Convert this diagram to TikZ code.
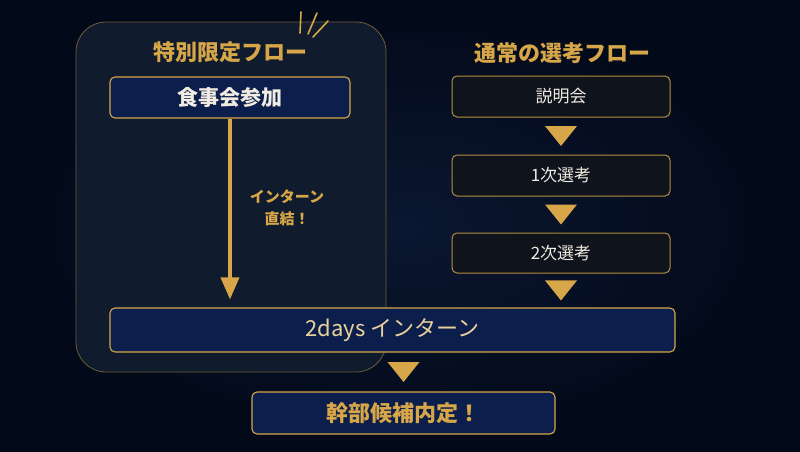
\documentclass[tikz,border=0pt]{standalone}
\usepackage{fontspec}
\setmainfont{Noto Sans CJK JP}
\usetikzlibrary{arrows.meta,calc}

\definecolor{bgnavy}{HTML}{0B1731}
\definecolor{bgdark}{HTML}{020918}
\definecolor{gold}{HTML}{D6A648}
\definecolor{goldlight}{HTML}{EBD29C}
\definecolor{boxnavy}{HTML}{0C1F4C}
\definecolor{boxdark}{HTML}{0F131C}
\definecolor{panelfill}{HTML}{111B2E}
\definecolor{panelline}{HTML}{6E5B38}
\definecolor{paletext}{HTML}{F0ECE2}

\tikzset{
  flowtitle/.style={text=gold, font=\bfseries\fontsize{22}{26}\selectfont},
  navybox/.style={draw=gold, line width=1.1pt, rounded corners=5pt, fill=boxnavy,
    inner sep=0pt},
  darkbox/.style={draw=gold!85!black, line width=1pt, rounded corners=5pt, fill=boxdark,
    inner sep=0pt, minimum width=218pt, minimum height=41pt, text=paletext,
    font=\fontsize{17}{20}\selectfont},
}

\begin{document}
\begin{tikzpicture}[x=1pt, y=-1pt]

% Background
\useasboundingbox (0,0) rectangle (800,452);
\shade[inner color=bgnavy, outer color=bgdark] (0,0) rectangle (800,452);

% Special flow panel
\draw[draw=panelline, line width=0.8pt, fill=panelfill, rounded corners=30pt]
  (76,22) rectangle (386,372);

% Sparkle lines
\draw[gold, line width=1.6pt, line cap=round] (301,12) -- (300,33);
\draw[gold, line width=1.6pt, line cap=round] (317,13) -- (308,34);
\draw[gold, line width=1.6pt, line cap=round] (328,21) -- (313,37);

% Titles
\node[flowtitle] (spectitle) at (230,52) {特別限定フロー};
\node[flowtitle] (normtitle) at (562,53) {通常の選考フロー};

% Boxes
\node[navybox, minimum width=240pt, minimum height=41pt, text=paletext,
  font=\bfseries\fontsize{21}{24}\selectfont] (meal) at (230,97.5) {食事会参加};
\node[darkbox] (briefing) at (561,96.5) {説明会};
\node[darkbox] (first) at (561,175.5) {1次選考};
\node[darkbox, minimum height=40pt] (second) at (561,253) {2次選考};
\node[navybox, minimum width=565pt, minimum height=44pt, text=goldlight,
  font=\fontsize{22}{26}\selectfont] (intern) at (392.5,330) {2days インターン};
\node[navybox, minimum width=303pt, minimum height=42pt, text=gold,
  font=\bfseries\fontsize{22}{26}\selectfont] (offer) at (403.5,413) {幹部候補内定！};

% Direct arrow
\draw[gold, line width=3.5pt, shorten >=8pt, -{Triangle[width=18pt,length=22pt]}]
  (meal.south) -- (meal.south |- intern.north);
\node[text=gold, align=center, font=\bfseries\fontsize{15}{22}\selectfont]
  (directlabel) at (287,208) {インターン\\直結！};

% Step markers
\foreach \a/\b in {briefing/first, first/second, second/intern}
  \fill[gold] ($(\a.south)!.5!(\a.south |- \b.north)$)
    +(-16,-10) -- +(16,-10) -- +(0,10) -- cycle;
\fill[gold] ($(offer.north)!.5!(offer.north |- intern.south)$)
  +(-16,-10) -- +(16,-10) -- +(0,10) -- cycle;

\end{tikzpicture}
\end{document}
